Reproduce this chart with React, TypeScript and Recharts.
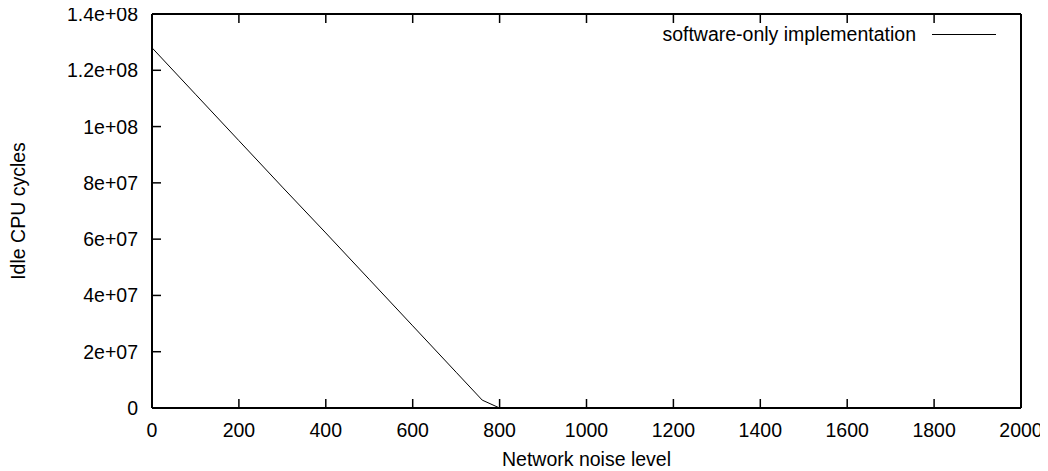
import React from 'react';
import { LineChart, Line, XAxis, YAxis, Legend } from 'recharts';

const noiseLevels = [0, 100, 200, 300, 400, 500, 600, 700, 760, 800, 900, 1000, 1100, 1200, 1300, 1400, 1500, 1600, 1700, 1800, 1900, 2000];
const idleCycles = [1.28e8, 1.115e8, 9.5e7, 7.85e7, 6.22e7, 4.57e7, 2.92e7, 1.27e7, 2.8e6, 0, 0, 0, 0, 0, 0, 0, 0, 0, 0, 0, 0, 0];

const xTicks = [0, 200, 400, 600, 800, 1000, 1200, 1400, 1600, 1800, 2000];
const xTickLabels = ['0', '200', '400', '600', '800', '1000', '1200', '1400', '1600', '1800', '2000'];
const yTicks = [0, 2e7, 4e7, 6e7, 8e7, 1e8, 1.2e8, 1.4e8];
const yTickLabels = ['0', '2e+07', '4e+07', '6e+07', '8e+07', '1e+08', '1.2e+08', '1.4e+08'];

const seriesName = 'software-only implementation';
const xLabel = 'Network noise level';
const yLabel = 'Idle CPU cycles';

const data = noiseLevels.map((x, i) => ({ x, y: idleCycles[i] }));

const FONT = "'Liberation Sans', Arial, Helvetica, sans-serif";
const FS = 19.5;
const TICK = 9;

const BottomTick = (props: any) => {
  const { x, y, index } = props;
  return (
    <g>
      <line x1={x} y1={y} x2={x} y2={y - TICK} stroke="#000" strokeWidth={1.5} />
      <text x={x} y={y + 29} textAnchor="middle" fontSize={FS} fill="#000" fontFamily={FONT}>
        {xTickLabels[index]}
      </text>
    </g>
  );
};

const TopTick = (props: any) => {
  const { x, y } = props;
  return <line x1={x} y1={y} x2={x} y2={y + TICK} stroke="#000" strokeWidth={1.5} />;
};

const LeftTick = (props: any) => {
  const { x, y, index } = props;
  return (
    <g>
      <line x1={x} y1={y} x2={x + TICK} y2={y} stroke="#000" strokeWidth={1.5} />
      <text x={x - 14} y={y + 7} textAnchor="end" fontSize={FS} fill="#000" fontFamily={FONT}>
        {yTickLabels[index]}
      </text>
    </g>
  );
};

const RightTick = (props: any) => {
  const { x, y } = props;
  return <line x1={x} y1={y} x2={x - TICK} y2={y} stroke="#000" strokeWidth={1.5} />;
};

const XLabel = (props: any) => {
  const vb = props.viewBox;
  return (
    <text x={vb.x + vb.width / 2} y={vb.y + 58} textAnchor="middle" fontSize={FS} fill="#000" fontFamily={FONT}>
      {xLabel}
    </text>
  );
};

const YLabel = (props: any) => {
  const vb = props.viewBox;
  const cx = vb.x + 18;
  const cy = vb.y + vb.height / 2;
  return (
    <text
      x={cx}
      y={cy}
      dy="0.35em"
      transform={`rotate(-90, ${cx}, ${cy})`}
      textAnchor="middle"
      fontSize={FS}
      fill="#000"
      fontFamily={FONT}
    >
      {yLabel}
    </text>
  );
};

const LegendContent = () => (
  <div style={{ display: 'flex', alignItems: 'center', height: 20, fontFamily: FONT, fontSize: FS, color: '#000', whiteSpace: 'nowrap' }}>
    <span>{seriesName}</span>
    <svg width={64} height={20} style={{ marginLeft: 16 }}>
      <line x1={0} y1={10.5} x2={64} y2={10.5} stroke="#000" strokeWidth={1} />
    </svg>
  </div>
);

const axisLine = { stroke: '#000', strokeWidth: 2 };

export default function App() {
  return (
    <div style={{ marginTop: -8, marginLeft: -8, width: 1048, height: 471, background: '#fff' }}>
      <LineChart
        width={1048}
        height={471}
        data={data}
        margin={{ top: 13, right: 26, bottom: 0, left: 0 }}
        style={{ fontFamily: FONT, background: '#fff' }}
      >
        <XAxis
          xAxisId="bottom"
          dataKey="x"
          type="number"
          domain={[0, 2000]}
          ticks={xTicks}
          interval={0}
          height={63}
          tickLine={false}
          tickSize={0}
          tickMargin={0}
          axisLine={axisLine}
          tick={<BottomTick />}
          label={<XLabel />}
        />
        <XAxis
          xAxisId="top"
          orientation="top"
          dataKey="x"
          type="number"
          domain={[0, 2000]}
          ticks={xTicks}
          interval={0}
          height={1}
          tickLine={false}
          tickSize={0}
          tickMargin={0}
          axisLine={axisLine}
          tick={<TopTick />}
        />
        <YAxis
          yAxisId="left"
          type="number"
          domain={[0, 1.4e8]}
          ticks={yTicks}
          interval={0}
          width={152}
          tickLine={false}
          tickSize={0}
          tickMargin={0}
          axisLine={axisLine}
          tick={<LeftTick />}
          label={<YLabel />}
        />
        <YAxis
          yAxisId="right"
          orientation="right"
          type="number"
          domain={[0, 1.4e8]}
          ticks={yTicks}
          interval={0}
          width={1}
          tickLine={false}
          tickSize={0}
          tickMargin={0}
          axisLine={axisLine}
          tick={<RightTick />}
        />
        <Legend
          layout="vertical"
          align="center"
          verticalAlign="middle"
          content={<LegendContent />}
          wrapperStyle={{ top: 24, right: 52, left: 'auto', bottom: 'auto', width: 'auto', height: 'auto' }}
        />
        <Line
          xAxisId="bottom"
          yAxisId="left"
          dataKey="y"
          name={seriesName}
          stroke="#000"
          strokeWidth={1}
          dot={false}
          activeDot={false}
          isAnimationActive={false}
        />
      </LineChart>
    </div>
  );
}
